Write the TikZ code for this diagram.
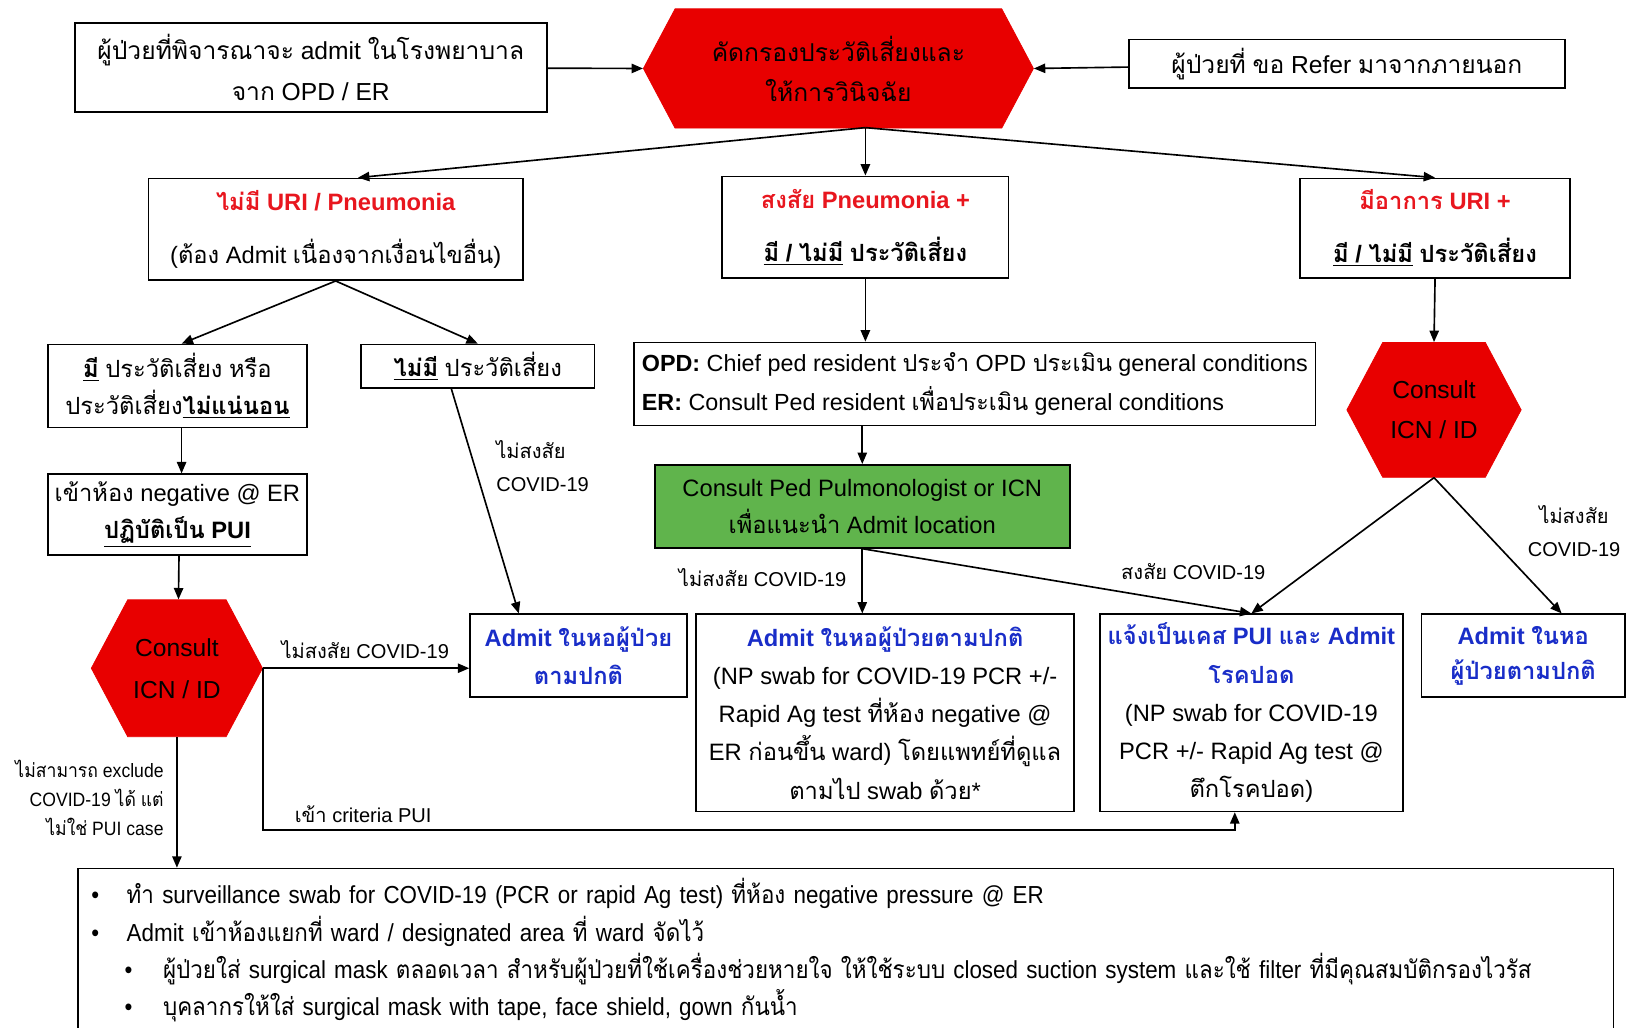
\documentclass[tikz,border=0pt]{standalone}
\usepackage{fontspec}
\setmainfont{Liberation Sans}
\newfontfamily\thaifont[Script=Thai]{Loma}
\newfontfamily\thainarrow[Script=Thai,FakeStretch=0.91]{Loma}
\newfontfamily\narrowsans[FakeStretch=0.91]{Liberation Sans}
\let\thaisel\thaifont
% Thai runs switch to Loma automatically
\XeTeXinterchartokenstate=1
\newXeTeXintercharclass\thaicls
\newcount\thaichar
\thaichar="0E00
\loop
  \XeTeXcharclass\thaichar=\thaicls
  \advance\thaichar by 1
\ifnum\thaichar<"0E80 \repeat
\XeTeXinterchartoks 0 \thaicls = {\begingroup\thaisel}
\XeTeXinterchartoks 4095 \thaicls = {\begingroup\thaisel}
\XeTeXinterchartoks \thaicls 0 = {\endgroup}
\XeTeXinterchartoks \thaicls 4095 = {\endgroup}
\usetikzlibrary{arrows.meta,shapes.symbols}
\definecolor{hexred}{RGB}{232,0,0}
\definecolor{urired}{RGB}{232,22,30}
\definecolor{wardblue}{RGB}{25,45,200}
\definecolor{pulmogreen}{RGB}{96,180,76}
\newcommand\redhead{\color{urired}\bfseries}
\newcommand\wardhead{\color{wardblue}\bfseries}
\newcommand\bitem[1]{\makebox[0.68cm][l]{\textbullet}#1}
\newcommand\sitem[1]{\hspace{0.64cm}\makebox[0.74cm][l]{\textbullet}#1}

\begin{document}
\begin{tikzpicture}
    [x=0.02cm, y=-0.02cm,
    box/.style={draw, line width=0.9pt, align=center, inner sep=0pt, font=\fontsize{13}{#1}\selectfont},
    box/.default=21,
    hexnode/.style={signal, signal to=east and west, signal pointer angle=124, fill=hexred, draw=hexred, inner sep=0pt, align=center, font=\fontsize{13.5}{#1}\selectfont},
    hexnode/.default=22,
    flow/.style={line width=0.9pt, -{Triangle[length=2.2mm, width=1.8mm]}},
    note/.style={inner sep=0pt, font=\fontsize{11}{#1}\selectfont},
    note/.default=18]

    \useasboundingbox (0,0) rectangle (1568,990);

    % top row
    \node[box=23, font=\fontsize{13.5}{23}\selectfont, minimum width=9.10cm, minimum height=1.72cm] (admitq) at (299.5,65) {ผู้ป่วยที่พิจารณาจะ admit ในโรงพยาบาล\\จาก OPD / ER};
    \node[hexnode, minimum width=7.52cm, minimum height=2.30cm] (screen) at (808,66) {คัดกรองประวัติเสี่ยงและ\\ให้การวินิจฉัย};
    \node[box, font=\fontsize{13.5}{21}\selectfont, minimum width=8.40cm, minimum height=0.94cm] (refer) at (1298,61.5) {ผู้ป่วยที่ ขอ Refer มาจากภายนอก};
    \coordinate (fork) at (834,123);

    % three groups
    \node[box=29, minimum width=7.22cm, minimum height=1.96cm] (nouri) at (323.5,221) {{\redhead ไม่มี URI / Pneumonia}\\(ต้อง Admit เนื่องจากเงื่อนไขอื่น)};
    \node[box=29, minimum width=5.52cm, minimum height=1.96cm] (pneu) at (834,219) {{\redhead สงสัย Pneumonia +}\\{\bfseries\underline{มี / ไม่มี} ประวัติเสี่ยง}};
    \node[box=29, minimum width=5.20cm, minimum height=1.92cm] (uri) at (1383,220) {{\redhead มีอาการ URI +}\\{\bfseries\underline{มี / ไม่มี} ประวัติเสี่ยง}};

    % left branch
    \node[box=20.5, minimum width=5.00cm, minimum height=1.60cm] (risk) at (171,372) {\underline{\textbf{มี}} ประวัติเสี่ยง หรือ\\ประวัติเสี่ยง\underline{\textbf{ไม่แน่นอน}}};
    \node[box, minimum width=4.50cm, minimum height=0.84cm] (norisk) at (460.5,353) {\underline{\textbf{ไม่มี}} ประวัติเสี่ยง};
    \node[box=20.5, minimum width=5.00cm, minimum height=1.56cm] (negroom) at (171,496) {เข้าห้อง negative @ ER\\\underline{\textbf{ปฏิบัติเป็น PUI}}};
    \node[hexnode=23, minimum width=3.30cm, minimum height=2.64cm] (icnl) at (170.5,644) {Consult\\ICN / ID};
    \node[box=20.5, minimum width=4.18cm, minimum height=1.60cm] (wardg) at (557.5,632) {\wardhead Admit ในหอผู้ป่วย\\\wardhead ตามปกติ};

    % middle branch
    \node[box, align=left, font=\fontsize{12.8}{21}\selectfont, minimum width=13.14cm, minimum height=1.60cm] (assess) at (939.5,370) {\textbf{OPD:} Chief ped resident ประจำ OPD ประเมิน general conditions\\\textbf{ER:} Consult Ped resident เพื่อประเมิน general conditions};
    \node[box=20.5, fill=pulmogreen, minimum width=8.00cm, minimum height=1.60cm] (pulmo) at (831,488) {Consult Ped Pulmonologist or ICN\\เพื่อแนะนำ Admit location};
    \node[box, minimum width=7.28cm, minimum height=3.80cm] (wardn) at (853,687) {{\wardhead Admit ในหอผู้ป่วยตามปกติ}\\(NP swab for COVID-19 PCR +/-\\Rapid Ag test ที่ห้อง negative @\\ER ก่อนขึ้น ward) โดยแพทย์ที่ดูแล\\ตามไป swab ด้วย*};
    \node[box, minimum width=5.84cm, minimum height=3.80cm] (pui) at (1206,687) {{\wardhead แจ้งเป็นเคส PUI และ Admit}\\{\wardhead โรคปอด}\\(NP swab for COVID-19\\PCR +/- Rapid Ag test @\\ตึกโรคปอด)};

    % right branch
    \node[hexnode, minimum width=3.36cm, minimum height=2.60cm] (icnr) at (1382,395) {Consult\\ICN / ID};
    \node[box=19.5, minimum width=3.92cm, minimum height=1.60cm] (wardr) at (1468,632) {\wardhead Admit ในหอ\\\wardhead ผู้ป่วยตามปกติ};

    % bottom box
    \node[draw, line width=0.9pt, minimum width=29.6cm, minimum height=3.16cm, inner xsep=0.26cm, text width=29.08cm, align=left, font=\narrowsans\let\thaisel\thainarrow\fontsize{13.5}{20.5}\selectfont] (care) at (815,916)
      {\bitem{ทำ surveillance swab for COVID-19 (PCR or rapid Ag test) ที่ห้อง negative pressure @ ER}\\
       \bitem{Admit เข้าห้องแยกที่ ward / designated area ที่ ward จัดไว้}\\
       \sitem{ผู้ป่วยใส่ surgical mask ตลอดเวลา สำหรับผู้ป่วยที่ใช้เครื่องช่วยหายใจ ให้ใช้ระบบ closed suction system และใช้ filter ที่มีคุณสมบัติกรองไวรัส}\\
       \sitem{บุคลากรให้ใส่ surgical mask with tape, face shield, gown กันน้ำ}};

    % labels
    \node[note, anchor=west, align=left] (lblnorisk) at (478,449) {ไม่สงสัย\\COVID-19};
    \node[note] (lblicn) at (352,626) {ไม่สงสัย COVID-19};
    \node[note=16, anchor=east, align=right, font=\narrowsans\let\thaisel\thainarrow\fontsize{10.6}{16}\selectfont] (lblexc) at (158,769) {ไม่สามารถ exclude\\COVID-19 ได้ แต่\\ไม่ใช่ PUI case};
    \node[note] (lblcrit) at (350,785) {เข้า criteria PUI};
    \node[note] (lblpulmo) at (735,557) {ไม่สงสัย COVID-19};
    \node[note] (lblpui) at (1150,551) {สงสัย COVID-19};
    \node[note, align=center] (lblr) at (1517,512) {ไม่สงสัย\\COVID-19};
    \coordinate (critrow) at (0,800);

    \draw[flow] (admitq) -- (screen.west);
    \draw[flow] (refer) -- (screen.east);
    \draw[flow] (fork) -- ([xshift=0.43cm]nouri.north);
    \draw[flow] (fork) -- (pneu.north);
    \draw[flow] (fork) -- (uri.north);

    \draw[flow] (nouri.south) -- ([xshift=0.08cm]risk.north);
    \draw[flow] (nouri.south) -- (norisk.north);
    \draw[flow] ([xshift=0.08cm]risk.south) -- ([xshift=0.08cm]negroom.north);
    \draw[flow] ([xshift=0.03cm]negroom.south) -- ([xshift=0.03cm]icnl.north);
    \draw[flow] (icnl.east) -- (icnl.east -| wardg.west);
    \draw[flow] ([xshift=-0.51cm]norisk.south) -- ([xshift=-1.15cm]wardg.north);
    \draw[flow] (icnl.south) -- (icnl.south |- care.north);
    \draw[flow] (icnl.east) -- (icnl.east |- critrow) -| ([xshift=-0.32cm]pui.south);

    \draw[flow] (pneu.south) -- (pneu.south |- assess.north);
    \draw[flow] (pulmo.north |- assess.south) -- (pulmo.north);
    \draw[flow] (pulmo.south) -- (pulmo.south |- wardn.north);
    \draw[flow] (pulmo.south) -- (pui.north);

    \draw[flow] (uri.south) -- (icnr.north);
    \draw[flow] (icnr.south) -- (pui.north);
    \draw[flow] (icnr.south) -- ([xshift=0.74cm]wardr.north);

\end{tikzpicture}
\end{document}
